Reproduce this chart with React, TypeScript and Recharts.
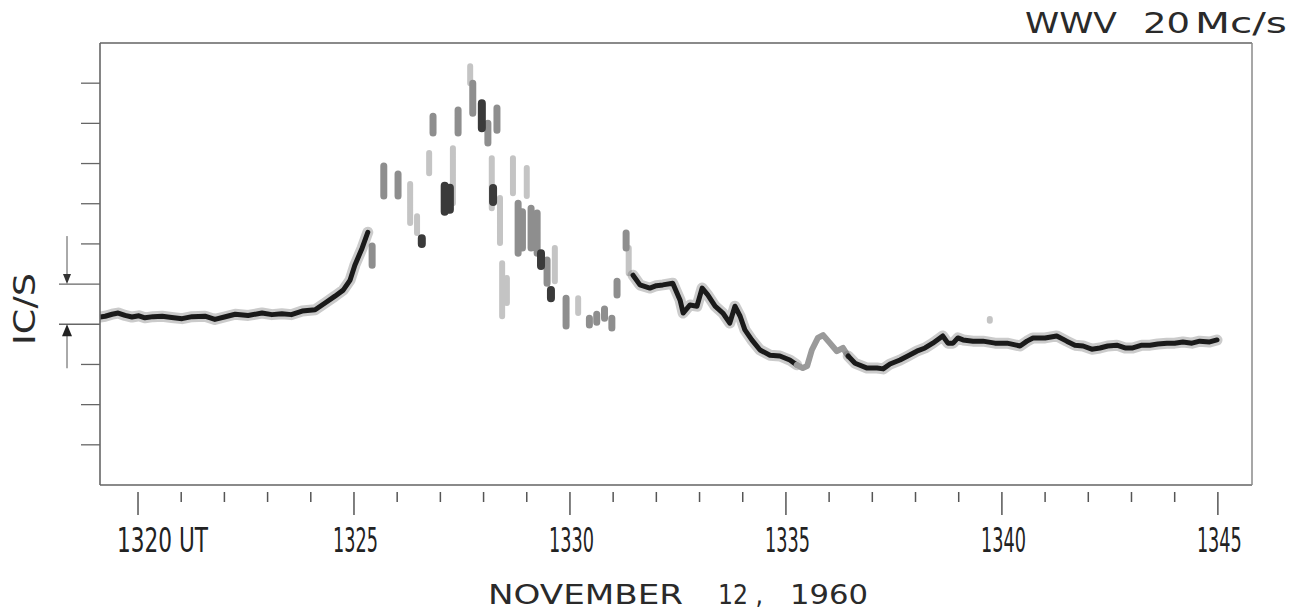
import { ComposedChart, Line, XAxis, YAxis } from 'recharts';

const W = 1294;
const H = 615;

// minutes past 13h UT, one tick a minute
const minuteTicks = [
  1320, 1321, 1322, 1323, 1324, 1325, 1326, 1327, 1328, 1329, 1330, 1331, 1332,
  1333, 1334, 1335, 1336, 1337, 1338, 1339, 1340, 1341, 1342, 1343, 1344, 1345,
];
const labelledMinutes = [1320, 1325, 1330, 1335, 1340, 1345];
const levelTicks = [1, 2, 3, 4, 5, 6, 7, 8, 9, 10];
const timeDomain = [1319.12, 1345.79];
const levelDomain = [0, 11];

// continuous trace, [minute, level in c/s]
const quietTrace: [number, number][] = [
  [1319.12, 4.18], [1319.24, 4.2], [1319.4, 4.25], [1319.54, 4.28], [1319.7, 4.22],
  [1319.86, 4.18], [1320.02, 4.21], [1320.16, 4.16], [1320.35, 4.19], [1320.56, 4.2],
  [1320.78, 4.17], [1321.02, 4.14], [1321.25, 4.19], [1321.55, 4.2], [1321.78, 4.12],
  [1322.0, 4.18], [1322.25, 4.25], [1322.55, 4.22], [1322.87, 4.28], [1323.1, 4.24],
  [1323.33, 4.26], [1323.55, 4.24], [1323.8, 4.33], [1324.1, 4.36], [1324.33, 4.53],
  [1324.56, 4.7], [1324.75, 4.85], [1324.91, 5.1], [1325.02, 5.47], [1325.19, 5.9],
  [1325.32, 6.29],
];

const recoveryTrace: [number, number][] = [
  [1331.46, 5.22], [1331.62, 4.98], [1331.85, 4.9], [1332.0, 4.96], [1332.15, 4.98],
  [1332.38, 5.02], [1332.55, 4.6], [1332.62, 4.28], [1332.78, 4.48], [1332.94, 4.45],
  [1333.06, 4.9], [1333.19, 4.73], [1333.36, 4.45], [1333.54, 4.28], [1333.7, 4.03],
  [1333.82, 4.45], [1333.94, 4.2], [1334.05, 3.86], [1334.21, 3.61], [1334.4, 3.36],
  [1334.63, 3.23], [1334.86, 3.21], [1335.09, 3.11], [1335.25, 2.99],
];

const fadedTrace: [number, number][] = [
  [1335.25, 2.99], [1335.39, 2.91], [1335.49, 2.96], [1335.6, 3.36], [1335.74, 3.66],
  [1335.86, 3.73], [1336.02, 3.53], [1336.18, 3.33], [1336.32, 3.41], [1336.44, 3.21],
];

const lateTrace: [number, number][] = [
  [1336.44, 3.21], [1336.6, 3.03], [1336.88, 2.91], [1337.11, 2.91], [1337.25, 2.89],
  [1337.41, 3.01], [1337.64, 3.11], [1337.82, 3.21], [1338.03, 3.33], [1338.22, 3.41],
  [1338.4, 3.53], [1338.63, 3.71], [1338.75, 3.53], [1338.87, 3.53], [1338.98, 3.66],
  [1339.1, 3.61], [1339.33, 3.58], [1339.56, 3.58], [1339.84, 3.53], [1340.12, 3.53],
  [1340.42, 3.46], [1340.58, 3.58], [1340.72, 3.66], [1341.0, 3.66], [1341.27, 3.71],
  [1341.5, 3.58], [1341.69, 3.48], [1341.88, 3.46], [1342.08, 3.38], [1342.27, 3.41],
  [1342.45, 3.46], [1342.66, 3.48], [1342.85, 3.41], [1343.03, 3.41], [1343.24, 3.48],
  [1343.43, 3.48], [1343.61, 3.51], [1343.82, 3.53], [1344.0, 3.53], [1344.19, 3.56],
  [1344.4, 3.53], [1344.58, 3.58], [1344.81, 3.56], [1344.98, 3.61],
];

// broken-up smears during the spread, [minute, top, bottom]
const smearLight: [number, number, number][] = [
  [1326.3, 7.49, 6.52], [1326.46, 6.69, 6.27], [1326.74, 8.26, 7.76], [1327.29, 8.38, 7.01],
  [1327.69, 10.42, 10.0], [1328.19, 8.13, 6.89], [1328.38, 7.14, 6.02], [1328.43, 5.52, 4.2],
  [1328.54, 5.15, 4.53], [1328.68, 8.13, 7.26], [1329.0, 7.89, 7.19], [1329.65, 5.9, 5.07],
  [1330.19, 4.65, 4.28], [1331.36, 5.9, 5.27], [1339.72, 4.13, 4.09],
];

const smearMid: [number, number, number][] = [
  [1325.42, 5.95, 5.47], [1325.69, 7.94, 7.19], [1326.02, 7.74, 7.19], [1326.83, 9.18, 8.76],
  [1327.41, 9.33, 8.76], [1327.75, 10.0, 9.25], [1328.1, 9.0, 8.51], [1328.31, 9.38, 8.83],
  [1328.8, 7.01, 5.77], [1328.9, 6.8, 5.9], [1329.1, 6.89, 5.9], [1329.24, 6.77, 5.77],
  [1329.47, 5.6, 5.02], [1329.91, 4.65, 3.96], [1330.45, 4.15, 3.98], [1330.62, 4.25, 4.05],
  [1330.8, 4.38, 4.15], [1330.97, 4.15, 3.91], [1331.09, 5.07, 4.73], [1331.3, 6.27, 5.9],
];

const smearDark: [number, number, number][] = [
  [1326.57, 6.14, 6.0], [1327.1, 7.45, 6.8], [1327.22, 7.4, 6.85], [1327.96, 9.5, 8.88],
  [1328.22, 7.39, 7.04], [1329.33, 5.77, 5.45], [1329.56, 4.85, 4.65],
];

const toRows = (pts: [number, number][]) => pts.map(([t, v]) => ({ t, v }));

const toStrokes = (smears: [number, number, number][]) => {
  const rows: { t: number; v: number | null }[] = [];
  smears.forEach(([t, top, bottom]) => {
    rows.push({ t, v: top }, { t, v: bottom }, { t, v: null });
  });
  return rows;
};

const ink = '#1a1a1a';
const axisGrey = '#8a8a8a';
const sans = '"DejaVu Sans", "Liberation Sans", sans-serif';
const narrow = '"Liberation Sans Narrow", "DejaVu Sans Condensed", sans-serif';

function MinuteTick(props: any) {
  const { x, y, payload } = props;
  const m = payload.value as number;
  const major = labelledMinutes.includes(m);
  const label = m === 1320 ? '1320 UT' : String(m);
  return (
    <g>
      <line x1={x} x2={x} y1={y + 7} y2={y + (major ? 30 : 17)} stroke="#555" strokeWidth={1.5} />
      {major && (
        <text
          x={x - 21}
          y={y + 67}
          fontFamily={narrow}
          fontSize={33}
          fill="#222"
          textLength={m === 1320 ? 91 : 45}
          lengthAdjust="spacingAndGlyphs"
        >
          {label}
        </text>
      )}
    </g>
  );
}

function LevelTick(props: any) {
  const { x, y, payload } = props;
  const v = payload.value as number;
  const scaleMark = v === 4 || v === 5;
  const ax = x - 33;
  return (
    <g>
      <line x1={x - (scaleMark ? 41 : 19)} x2={x} y1={y} y2={y} stroke="#666" strokeWidth={1.3} />
      {v === 5 && (
        <g>
          <line x1={ax} x2={ax} y1={y - 48} y2={y - 8} stroke="#555" strokeWidth={1} />
          <polygon points={`${ax - 4},${y - 10} ${ax + 4},${y - 10} ${ax},${y}`} fill="#333" />
        </g>
      )}
      {v === 4 && (
        <g>
          <line x1={ax} x2={ax} y1={y + 44} y2={y + 10} stroke="#555" strokeWidth={1} />
          <polygon points={`${ax - 5},${y + 12} ${ax + 5},${y + 12} ${ax},${y}`} fill="#222" />
        </g>
      )}
    </g>
  );
}

const traceLines = (id: string, pts: [number, number][], core: string) => [
  <Line
    key={`${id}-halo`}
    data={toRows(pts)}
    dataKey="v"
    type="linear"
    stroke="#6a6a6a"
    strokeOpacity={0.35}
    strokeWidth={11}
    strokeLinejoin="round"
    strokeLinecap="round"
    dot={false}
    activeDot={false}
    isAnimationActive={false}
  />,
  <Line
    key={`${id}-core`}
    data={toRows(pts)}
    dataKey="v"
    type="linear"
    stroke={core}
    strokeWidth={5}
    strokeLinejoin="round"
    strokeLinecap="round"
    dot={false}
    activeDot={false}
    isAnimationActive={false}
  />,
];

const smearLine = (id: string, smears: [number, number, number][], colour: string, width: number) => (
  <Line
    key={id}
    data={toStrokes(smears)}
    dataKey="v"
    type="linear"
    stroke={colour}
    strokeWidth={width}
    strokeLinecap="round"
    connectNulls={false}
    dot={false}
    activeDot={false}
    isAnimationActive={false}
  />
);

export default function App() {
  return (
    <div style={{ position: 'absolute', left: 0, top: 0, width: W, height: H, background: '#fff' }}>
      <ComposedChart width={W} height={H} margin={{ top: 42, right: 41, bottom: 129, left: 99 }}>
        <XAxis
          dataKey="t"
          type="number"
          domain={timeDomain}
          allowDataOverflow
          ticks={minuteTicks}
          interval={0}
          height={1}
          tickSize={0}
          tickMargin={0}
          tickLine={false}
          tick={<MinuteTick />}
          axisLine={{ stroke: axisGrey, strokeWidth: 2 }}
        />
        <XAxis
          xAxisId="frame"
          dataKey="t"
          type="number"
          orientation="top"
          domain={timeDomain}
          allowDataOverflow
          height={1}
          tick={false}
          tickLine={false}
          axisLine={{ stroke: axisGrey, strokeWidth: 2 }}
        />
        <YAxis
          type="number"
          domain={levelDomain}
          allowDataOverflow
          ticks={levelTicks}
          interval={0}
          width={1}
          tickSize={0}
          tickMargin={0}
          tickLine={false}
          tick={<LevelTick />}
          axisLine={{ stroke: '#666', strokeWidth: 1.6 }}
        />
        <YAxis
          yAxisId="frame"
          type="number"
          orientation="right"
          domain={levelDomain}
          allowDataOverflow
          width={1}
          tick={false}
          tickLine={false}
          axisLine={{ stroke: axisGrey, strokeWidth: 1.5 }}
        />
        {smearLine('smear-light', smearLight, '#c4c4c4', 6)}
        {smearLine('smear-mid', smearMid, '#8e8e8e', 7)}
        {smearLine('smear-dark', smearDark, '#3a3a3a', 8)}
        {traceLines('quiet', quietTrace, ink)}
        {traceLines('recovery', recoveryTrace, ink)}
        <Line
          data={toRows(fadedTrace)}
          dataKey="v"
          type="linear"
          stroke="#9a9a9a"
          strokeWidth={6}
          strokeLinejoin="round"
          strokeLinecap="round"
          dot={false}
          activeDot={false}
          isAnimationActive={false}
        />
        {traceLines('late', lateTrace, ink)}
      </ComposedChart>
      <svg
        width={W}
        height={H}
        style={{ position: 'absolute', left: 0, top: 0, pointerEvents: 'none' }}
      >
        <g fontFamily={sans} fill="#2a2a2a" fontSize={29}>
          <text x={1025} y={33} textLength={92} lengthAdjust="spacingAndGlyphs">WWV</text>
          <text x={1143} y={33} textLength={47} lengthAdjust="spacingAndGlyphs">20</text>
          <text x={1195} y={33} textLength={92} lengthAdjust="spacingAndGlyphs">Mc/s</text>
        </g>
        <g fontFamily={sans} fill="#2a2a2a" fontSize={27}>
          <text x={488} y={604} textLength={195} lengthAdjust="spacingAndGlyphs">NOVEMBER</text>
          <text x={718} y={604} textLength={45} lengthAdjust="spacingAndGlyphs">12 ,</text>
          <text x={790} y={604} textLength={78} lengthAdjust="spacingAndGlyphs">1960</text>
        </g>
        <text
          transform="translate(35, 309) rotate(-90)"
          textAnchor="middle"
          fontFamily={sans}
          fontSize={30}
          fill="#2a2a2a"
          textLength={72}
          lengthAdjust="spacingAndGlyphs"
        >
          IC/S
        </text>
      </svg>
    </div>
  );
}
